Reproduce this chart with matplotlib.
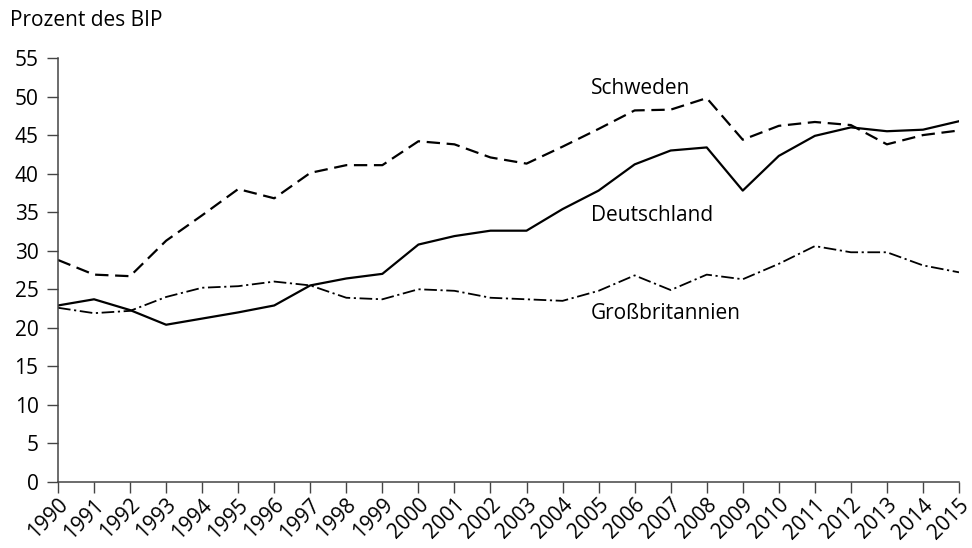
import matplotlib
matplotlib.use("Agg")
import matplotlib.pyplot as plt
from matplotlib.transforms import ScaledTranslation

years = list(range(1990, 2016))
schweden = [28.8, 26.9, 26.7, 31.3, 34.6, 38.0, 36.8, 40.1, 41.1, 41.1, 44.2, 43.8, 42.1, 41.3,
            43.5, 45.8, 48.2, 48.3, 49.8, 44.4, 46.2, 46.7, 46.3, 43.8, 45.0, 45.6]
deutschland = [22.9, 23.7, 22.3, 20.4, 21.2, 22.0, 22.9, 25.5, 26.4, 27.0, 30.8, 31.9, 32.6, 32.6,
               35.4, 37.8, 41.2, 43.0, 43.4, 37.8, 42.3, 44.9, 46.0, 45.5, 45.7, 46.8]
gb = [22.6, 21.9, 22.2, 24.0, 25.2, 25.4, 26.0, 25.5, 23.9, 23.7, 25.0, 24.8, 23.9, 23.7,
      23.5, 24.8, 26.8, 24.9, 26.9, 26.3, 28.3, 30.6, 29.8, 29.8, 28.1, 27.2]
yticks = list(range(0, 60, 5))
ylabel = "Prozent des BIP"

plt.rcParams['font.family'] = ['Open Sans', 'DejaVu Sans']
FS = 15

fig = plt.figure(figsize=(9.72, 5.48), dpi=100)
ax = fig.add_axes([58/972, 1-482/548, (959-58)/972, (482-58)/548])

ax.plot(years, schweden, color='black', lw=1.6, linestyle=(0, (6, 3)))
ax.plot(years, deutschland, color='black', lw=1.6, linestyle='-')
ax.plot(years, gb, color='black', lw=1.3, linestyle=(0, (7, 2, 1.2, 2)))

ax.set_xlim(1990, 2015)
ax.set_ylim(0, 55)
ax.set_yticks(yticks)
ax.set_xticks(years)
ax.set_xticklabels([str(y) for y in years], rotation=45, ha='right', va='center',
                   rotation_mode='anchor')
ax.tick_params(axis='both', direction='out', length=8, width=1, color='#444444', labelsize=FS)
ax.tick_params(axis='y', pad=6)
ax.tick_params(axis='x', pad=2)
offset = ScaledTranslation(7/100, -6/100, fig.dpi_scale_trans)
for lbl in ax.get_xticklabels():
    lbl.set_transform(lbl.get_transform() + offset)
for s in ['top', 'right']:
    ax.spines[s].set_visible(False)
for s in ['left', 'bottom']:
    ax.spines[s].set_color('#444444')
    ax.spines[s].set_linewidth(1.1)

fig.text(10/972, 1-21/548, ylabel, fontsize=FS, va='center', ha='left')
ax.text(2004.79, 50.3, "Schweden", fontsize=FS, ha='left', va='baseline')
ax.text(2004.79, 33.85, "Deutschland", fontsize=FS, ha='left', va='baseline')
ax.text(2004.79, 21.2, "Großbritannien", fontsize=FS, ha='left', va='baseline')

fig.savefig("out.png", dpi=100)
